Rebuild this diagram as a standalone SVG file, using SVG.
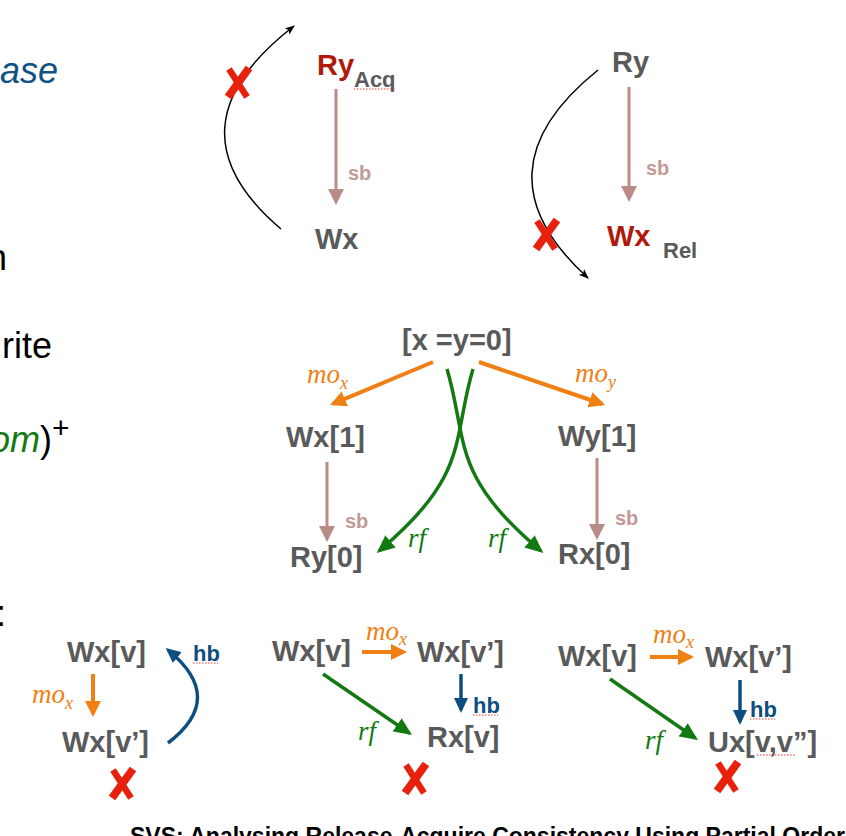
<svg xmlns="http://www.w3.org/2000/svg" width="846" height="836" viewBox="0 0 846 836">
<defs>
<style>
.n{font-family:"Liberation Sans",Arial,sans-serif;font-weight:bold;font-size:29px;fill:#5a5a5a}
.red{fill:#b0190c}
.sub{font-size:22px;fill:#5a5a5a}
.sbl{font-family:"Liberation Sans",Arial,sans-serif;font-weight:bold;font-size:20px;fill:#c39a96}
.hbl{font-family:"Liberation Sans",Arial,sans-serif;font-weight:bold;font-size:22px;fill:#0e4e80}
.mo{font-family:"Liberation Serif","Times New Roman",serif;font-style:italic;font-size:27px;fill:#f07f14}
.rf{font-family:"Liberation Serif","Times New Roman",serif;font-style:italic;font-size:27px;fill:#137a13}
.sb{stroke:#b98c88;stroke-width:3;fill:none;marker-end:url(#m-sb)}
.or{stroke:#f07f14;stroke-width:4;fill:none;marker-end:url(#m-or)}
.gr{stroke:#137a13;stroke-width:3.5;fill:none;marker-end:url(#m-gr)}
.bl{stroke:#0e4e80;stroke-width:3.5;fill:none;marker-end:url(#m-bl)}
.bk{stroke:#000;stroke-width:1.5;fill:none;marker-end:url(#m-bk)}
.sq{stroke:#e03a3a;stroke-width:1.2;stroke-dasharray:1.5 1.5;fill:none}
.side{font-family:"Liberation Sans",Arial,sans-serif;font-size:36px;fill:#000}
.title{font-family:"Liberation Sans",Arial,sans-serif;font-weight:bold;font-size:23px;fill:#000}
</style>
<marker id="m-sb" viewBox="0 0 16 16" markerUnits="userSpaceOnUse" markerWidth="16" markerHeight="16" refX="13" refY="8" orient="auto"><path d="M0,0L16,8L0,16z" fill="#b98c88"/></marker>
<marker id="m-or" viewBox="0 0 16 16" markerUnits="userSpaceOnUse" markerWidth="16" markerHeight="16" refX="13" refY="8" orient="auto"><path d="M0,0L16,8L0,16z" fill="#f07f14"/></marker>
<marker id="m-gr" viewBox="0 0 18 16" markerUnits="userSpaceOnUse" markerWidth="18" markerHeight="16" refX="15" refY="8" orient="auto"><path d="M0,0L18,8L0,16z" fill="#137a13"/></marker>
<marker id="m-bl" viewBox="0 0 15 14" markerUnits="userSpaceOnUse" markerWidth="15" markerHeight="14" refX="12" refY="7" orient="auto"><path d="M0,0L15,7L0,14z" fill="#0e4e80"/></marker>
<marker id="m-bk" viewBox="0 0 10 8" markerUnits="userSpaceOnUse" markerWidth="10" markerHeight="8" refX="9" refY="4" orient="auto"><path d="M0,0L10,4L0,8L2.5,4z" fill="#000"/></marker>
<g id="xm" stroke="#e8210c" fill="none"><path d="M-9,-13L9,15" stroke-width="6.5"/><path d="M11,-14L-10,15" stroke-width="8"/></g>
</defs>
<rect width="846" height="836" fill="#fff"/>

<!-- side text fragments -->
<g id="side">
<text class="side" x="58" y="83" text-anchor="end" font-style="italic" fill="#0f5283" style="fill:#0f5283">ase</text>
<text class="side" x="7" y="270" text-anchor="end">n</text>
<text class="side" x="52" y="358" text-anchor="end">rite</text>
<text class="side" x="40" y="452" text-anchor="end"><tspan font-style="italic" style="fill:#137a13">om</tspan></text>
<text class="side" x="40" y="452">)<tspan font-size="30" dy="-14">+</tspan></text>
<text class="side" x="-4" y="626">:</text>
<text class="title" x="130" y="844">SVS: Analysing Release-Acquire Consistency Using Partial Orders</text>
</g>

<!-- connectors -->
<g id="connectors">
<path class="sb" d="M336,89V202"/>
<path class="sb" d="M629,87V199"/>
<path class="bk" d="M281,229Q162,128 294,26"/>
<path class="bk" d="M598,70Q471,172 588,278"/>
<path class="or" d="M433,362L332.8,403.8"/>
<path class="or" d="M479,362L602.2,404"/>
<path class="gr" d="M473,369C452,440 470,475 379,551"/>
<path class="gr" d="M447,369C468,440 450,475 541,551"/>
<path class="sb" d="M327,462V539"/>
<path class="sb" d="M597,458V537"/>
<path class="or" d="M93,674V714"/>
<path class="bl" d="M168,743Q227,698 168,650"/>
<path class="or" d="M362,652H404"/>
<path class="bl" d="M461,674V710"/>
<path class="gr" d="M323,674L409.5,733.3"/>
<path class="or" d="M650,657H691"/>
<path class="bl" d="M740,680V722"/>
<path class="gr" d="M610,679L695.5,738.3"/>
</g>

<!-- edge labels -->
<g id="labels">
<text class="sbl" x="348" y="180">sb</text>
<text class="sbl" x="646" y="175">sb</text>
<text class="mo" x="307" y="383">mo<tspan font-size="18" dy="6">x</tspan></text>
<text class="mo" x="575" y="382">mo<tspan font-size="18" dy="6">y</tspan></text>
<text class="rf" x="408" y="547">rf</text>
<text class="rf" x="488" y="547">rf</text>
<text class="sbl" x="345" y="528">sb</text>
<text class="sbl" x="615" y="525">sb</text>
<text class="mo" x="32" y="703">mo<tspan font-size="18" dy="6">x</tspan></text>
<text class="hbl" x="193" y="661">hb</text>
<path class="sq" d="M193,663H218"/>
<text class="mo" x="366" y="640">mo<tspan font-size="18" dy="5">x</tspan></text>
<text class="hbl" x="473" y="713">hb</text>
<path class="sq" d="M473,715H498"/>
<text class="rf" x="358" y="740">rf</text>
<text class="mo" x="653" y="643">mo<tspan font-size="18" dy="5">x</tspan></text>
<text class="hbl" x="750" y="717">hb</text>
<path class="sq" d="M750,719H775"/>
<text class="rf" x="645" y="749">rf</text>
</g>

<!-- nodes -->
<g id="n-ry-acq"><text class="n red" x="317" y="75">Ry</text><text class="n sub" x="354" y="87">Acq</text><path class="sq" d="M354,89H395"/></g>
<g id="n-wx-1"><text class="n" x="315" y="249">Wx</text></g>
<g id="n-ry-2"><text class="n" x="612" y="72">Ry</text></g>
<g id="n-wx-rel"><text class="n red" x="607" y="246">Wx</text><text class="n sub" x="663" y="258">Rel</text></g>
<g id="n-init"><text class="n" x="402" y="350">[x =y=0]</text></g>
<g id="n-wx1"><text class="n" x="286" y="447">Wx[1]</text></g>
<g id="n-wy1"><text class="n" x="558" y="446">Wy[1]</text></g>
<g id="n-ry0"><text class="n" x="290" y="567">Ry[0]</text></g>
<g id="n-rx0"><text class="n" x="558" y="564">Rx[0]</text></g>
<g id="n-a-wxv"><text class="n" x="67" y="662">Wx[v]</text></g>
<g id="n-a-wxv2"><text class="n" x="62" y="752">Wx[v’]</text></g>
<g id="n-b-wxv"><text class="n" x="272" y="661">Wx[v]</text></g>
<g id="n-b-wxv2"><text class="n" x="417" y="662">Wx[v’]</text></g>
<g id="n-b-rxv"><text class="n" x="427" y="747">Rx[v]</text></g>
<g id="n-c-wxv"><text class="n" x="558" y="666">Wx[v]</text></g>
<g id="n-c-wxv2"><text class="n" x="705" y="667">Wx[v’]</text></g>
<g id="n-c-ux"><text class="n" x="708" y="752">Ux[v,v”]</text><path class="sq" d="M757,755H795"/></g>

<!-- cross marks -->
<g id="crosses">
<use href="#xm" x="238" y="82"/>
<use href="#xm" x="546" y="234"/>
<use href="#xm" x="122" y="783"/>
<use href="#xm" x="415" y="778"/>
<use href="#xm" x="727" y="776"/>
</g>
</svg>
